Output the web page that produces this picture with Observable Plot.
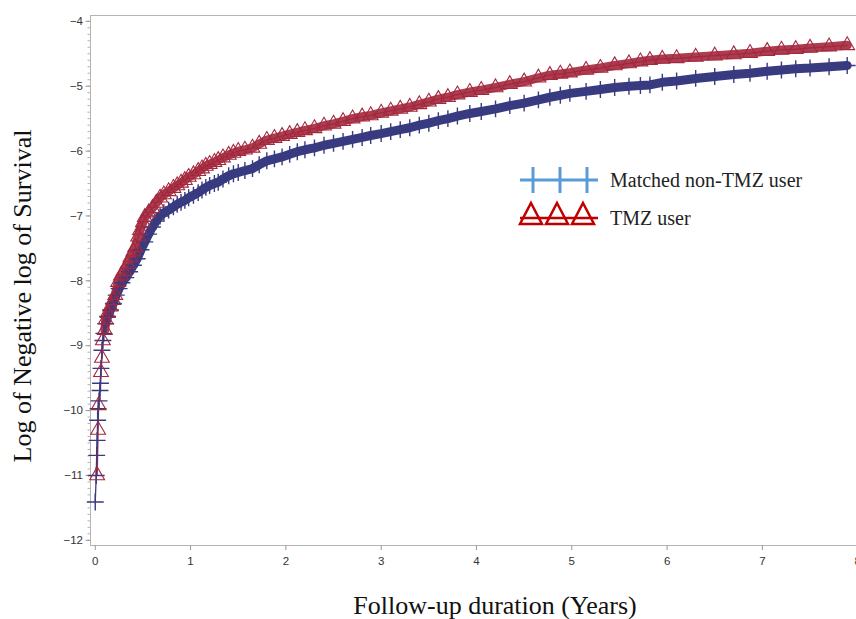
<!DOCTYPE html>
<html><head><meta charset="utf-8">
<script src="https://cdn.jsdelivr.net/npm/d3@7"></script>
<script src="https://cdn.jsdelivr.net/npm/@observablehq/plot@0.6"></script>
<style>
body{margin:0;background:#fff;}
#wrap{position:relative;width:856px;height:619px;overflow:hidden;}
</style></head><body><div id="wrap"></div>
<script>
const seriesNames = ["Matched non-TMZ user", "TMZ user"];
const xLabel = "Follow-up duration (Years)";
const yLabel = "Log of Negative log of Survival";
const blueTime = [0.00,0.01,0.015,0.02,0.025,0.03,0.04,0.05,0.055,0.06,0.07,0.08,0.09,0.11,0.13,0.16,0.19,0.22,0.25,0.28,0.32,0.36,0.40,0.44,0.48,0.52,0.56,0.60,0.64,0.68,0.72,0.77,0.82,0.86,0.90,0.94,0.98,1.03,1.08,1.12,1.16,1.20,1.25,1.29,1.34,1.40,1.45,1.50,1.57,1.65,1.72,1.80,1.88,1.96,2.04,2.12,2.20,2.30,2.40,2.50,2.60,2.70,2.80,2.89,3.00,3.10,3.20,3.30,3.40,3.50,3.60,3.70,3.80,3.93,4.05,4.20,4.35,4.50,4.65,4.77,4.88,4.98,5.15,5.30,5.45,5.60,5.72,5.82,5.95,6.10,6.30,6.50,6.70,6.87,7.05,7.20,7.35,7.50,7.70,7.89];
const blueValue = [-11.41,-11.00,-10.69,-10.46,-10.15,-9.97,-9.85,-9.69,-9.58,-9.35,-9.07,-8.92,-8.81,-8.66,-8.55,-8.45,-8.35,-8.22,-8.12,-8.03,-7.95,-7.86,-7.76,-7.66,-7.52,-7.40,-7.28,-7.17,-7.08,-7.00,-6.95,-6.91,-6.86,-6.82,-6.79,-6.76,-6.72,-6.68,-6.64,-6.60,-6.56,-6.53,-6.50,-6.48,-6.43,-6.38,-6.35,-6.33,-6.30,-6.27,-6.21,-6.15,-6.12,-6.09,-6.05,-6.01,-5.98,-5.95,-5.91,-5.88,-5.85,-5.82,-5.79,-5.76,-5.73,-5.70,-5.67,-5.64,-5.60,-5.57,-5.53,-5.50,-5.46,-5.42,-5.39,-5.35,-5.30,-5.26,-5.21,-5.17,-5.14,-5.11,-5.08,-5.05,-5.02,-5.00,-4.99,-4.98,-4.94,-4.92,-4.88,-4.85,-4.82,-4.80,-4.77,-4.75,-4.73,-4.72,-4.70,-4.68];
const redTime = [0.02,0.03,0.035,0.06,0.07,0.08,0.10,0.11,0.13,0.16,0.19,0.21,0.24,0.27,0.30,0.34,0.37,0.40,0.42,0.45,0.47,0.50,0.52,0.56,0.60,0.64,0.68,0.72,0.77,0.82,0.86,0.90,0.94,0.98,1.03,1.08,1.12,1.16,1.20,1.25,1.29,1.34,1.40,1.45,1.50,1.57,1.65,1.72,1.80,1.88,1.96,2.04,2.12,2.20,2.30,2.40,2.50,2.60,2.70,2.80,2.89,3.00,3.10,3.20,3.30,3.40,3.50,3.60,3.70,3.80,3.93,4.05,4.20,4.35,4.50,4.65,4.77,4.88,4.98,5.15,5.30,5.45,5.60,5.72,5.82,5.95,6.10,6.30,6.50,6.70,6.87,7.05,7.20,7.35,7.50,7.70,7.89];
const redValue = [-11.00,-10.30,-9.92,-9.41,-9.19,-8.92,-8.76,-8.60,-8.50,-8.40,-8.30,-8.22,-8.02,-7.92,-7.85,-7.74,-7.64,-7.55,-7.48,-7.32,-7.22,-7.10,-7.02,-6.95,-6.88,-6.80,-6.72,-6.67,-6.62,-6.57,-6.53,-6.49,-6.45,-6.40,-6.36,-6.31,-6.27,-6.23,-6.20,-6.17,-6.14,-6.10,-6.06,-6.03,-6.00,-5.98,-5.95,-5.89,-5.83,-5.80,-5.77,-5.74,-5.71,-5.68,-5.65,-5.61,-5.58,-5.54,-5.50,-5.47,-5.45,-5.41,-5.38,-5.35,-5.32,-5.28,-5.24,-5.20,-5.17,-5.13,-5.09,-5.06,-5.02,-4.97,-4.93,-4.87,-4.83,-4.81,-4.79,-4.75,-4.72,-4.68,-4.65,-4.62,-4.60,-4.58,-4.57,-4.55,-4.53,-4.51,-4.49,-4.46,-4.44,-4.43,-4.41,-4.39,-4.37];
const xTicks = [0,1,2,3,4,5,6,7,8];
const yTicks = [-12,-11,-10,-9,-8,-7,-6,-5,-4];

const blue = blueTime.map((t,i)=>({t, v: blueValue[i]}));
const red = redTime.map((t,i)=>({t, v: redValue[i]}));
const blueCol = "#383b80", redCol = "#a3283d";
const minorY = d3.range(-120, -39).map(d => d/10);
const axisCol = "#b4b4b4";
const tickFont = "'Liberation Sans', Arial, sans-serif";
const serif = "'Liberation Serif', 'Times New Roman', serif";

const chart = Plot.plot({
  width: 856, height: 619,
  marginLeft: 90, marginRight: 0, marginTop: 15, marginBottom: 74,
  style: {fontFamily: tickFont, fontSize: "11px", color: "#333", background: "#fff"},
  x: {domain: [-0.05, 8.04], range: [90, 861]},
  y: {domain: [-12.08, -3.91], range: [545, 15]},
  marks: [
    Plot.ruleX([-0.05], {stroke: axisCol}),
    Plot.ruleY([-3.91, -12.08], {stroke: axisCol}),
    Plot.axisY(minorY, {tickSize: 2.5, text: null, stroke: axisCol, label: null}),
    Plot.axisY(yTicks, {tickSize: 4.5, tickPadding: 3, stroke: "#999", fill: "#333", fontSize: 11.5, label: null, tickFormat: d => String(d).replace("-", "\u2212")}),
    Plot.axisX(xTicks, {tickSize: 5, tickPadding: 6, stroke: "#999", fill: "#333", fontSize: 11.5, label: null}),
    Plot.line(blue.filter(d => d.t >= 0.1), {x: "t", y: "v", stroke: blueCol, strokeWidth: 9}),
    Plot.line(red.filter(d => d.t >= 0.1), {x: "t", y: "v", stroke: redCol, strokeWidth: 9, strokeOpacity: 0.9}),
    Plot.line(blue, {x: "t", y: "v", stroke: blueCol, strokeWidth: 1.3}),
    Plot.line(red, {x: "t", y: "v", stroke: redCol, strokeWidth: 1.3}),
    Plot.dot(blue, {x: "t", y: "v", symbol: "plus", r: 5.5, stroke: blueCol, strokeWidth: 1.4}),
    Plot.dot(red, {x: "t", y: "v", symbol: "triangle", r: 5.5, stroke: redCol, strokeWidth: 1.1, fill: "none"})
  ]
});
const wrap = document.getElementById("wrap");
wrap.appendChild(chart);

// titles and legend overlay
const leg = d3.select(wrap).append("svg").attr("width",856).attr("height",619)
  .style("position","absolute").style("left","0").style("top","0");
leg.append("text").attr("transform","translate(31,296) rotate(-90)").attr("text-anchor","middle")
  .attr("font-family",serif).attr("font-size",26).attr("fill","#111").text(yLabel);
leg.append("text").attr("x",495).attr("y",614).attr("text-anchor","middle")
  .attr("font-family",serif).attr("font-size",26).attr("fill","#111").text(xLabel);
const lb = leg.append("g");
lb.append("line").attr("x1",520).attr("x2",598).attr("y1",180).attr("y2",180).attr("stroke","#5b9bd5").attr("stroke-width",3);
[533,560,587].forEach(x => lb.append("line").attr("x1",x).attr("x2",x).attr("y1",167).attr("y2",193).attr("stroke","#5b9bd5").attr("stroke-width",3));
lb.append("text").attr("x",610).attr("y",187).text(seriesNames[0])
  .attr("font-family",serif).attr("font-size",20).attr("fill","#222");
const lr = leg.append("g");
lr.append("line").attr("x1",520).attr("x2",598).attr("y1",218).attr("y2",218).attr("stroke","#c00000").attr("stroke-width",2.5);
[531,557,583].forEach(x => lr.append("path").attr("d",`M${x},${203}L${x+11},${224}L${x-11},${224}Z`).attr("fill","none").attr("stroke","#c00000").attr("stroke-width",2.5));
lr.append("text").attr("x",610).attr("y",225).text(seriesNames[1])
  .attr("font-family",serif).attr("font-size",20).attr("fill","#222");
</script>
</body></html>
